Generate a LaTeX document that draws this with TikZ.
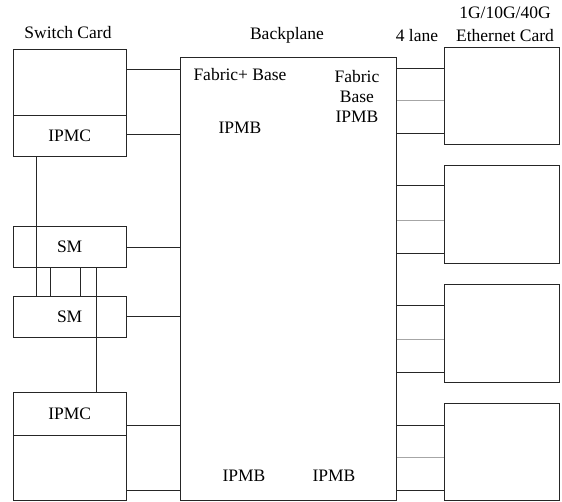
\documentclass[tikz,border=0pt]{standalone}
\usepackage{fontspec}
\setmainfont{Liberation Serif}
\begin{document}
\begin{tikzpicture}[x=1pt,y=-1pt,
  box/.style={draw=black!85,line width=0.9pt,rectangle,inner sep=0pt,anchor=north west},
  link/.style={draw=black!85,line width=0.9pt},
  glink/.style={draw=black!35,line width=0.9pt},
  lbl/.style={font=\fontsize{17.5}{19}\selectfont,inner sep=0pt}]
\useasboundingbox (0,0) rectangle (562,501);
% switch card
\node[box,minimum width=113pt,minimum height=66pt] (sc) at (12.7,49) {};
\node[box,minimum width=113pt,minimum height=41pt] (ipmc1) at (12.7,115) {};
\node[lbl] at (ipmc1.center) {IPMC};
\node[lbl] (sclbl) at (68,33) {Switch Card};
% shelf managers
\node[box,minimum width=113pt,minimum height=41.6pt] (sm1) at (12.7,225.7) {};
\node[lbl] at (sm1.center) {SM};
\node[box,minimum width=113pt,minimum height=41pt] (sm2) at (12.7,295.7) {};
\node[lbl] at (sm2.center) {SM};
% bottom card
\node[box,minimum width=113pt,minimum height=42.7pt] (ipmc2) at (12.7,392.3) {};
\node[lbl] at (ipmc2.center) {IPMC};
\node[box,minimum width=113pt,minimum height=64.5pt] (bc) at (12.7,435) {};
% backplane
\node[box,minimum width=216pt,minimum height=442.5pt] (bp) at (180,57) {};
\node[lbl] (bplbl) at (287,35) {Backplane};
\node[lbl] at (240,75) {Fabric+ Base};
\node[lbl] at (240,128) {IPMB};
\node[lbl,align=center] at (357,96) {Fabric\\[1pt]Base\\[1pt]IPMB};
\node[lbl] at (244,476) {IPMB};
\node[lbl] at (334,476) {IPMB};
% ethernet cards
\node[box,minimum width=114.4pt,minimum height=97.6pt] (e1) at (444.3,46.7) {};
\node[box,minimum width=114.4pt,minimum height=98.3pt] (e2) at (444.3,165) {};
\node[box,minimum width=114.4pt,minimum height=97.4pt] (e3) at (444.3,284.3) {};
\node[box,minimum width=114.4pt,minimum height=96.8pt] (e4) at (444.3,402.7) {};
\node[lbl] at (505,13) {1G/10G/40G};
\node[lbl] at (505,36) {Ethernet Card};
\node[lbl] at (417,36) {4 lane};
% left connectors
\draw[link] (sc.east |- 0,69) -- (bp.west |- 0,69);
\draw[link] (ipmc1.east |- 0,134) -- (bp.west |- 0,134);
\draw[link] (sm1.east |- 0,247) -- (bp.west |- 0,247);
\draw[link] (sm2.east |- 0,316) -- (bp.west |- 0,316);
\draw[link] (ipmc2.east |- 0,425) -- (bp.west |- 0,425);
\draw[link] (bc.east |- 0,490) -- (bp.west |- 0,490);
% vertical IPMB links
\draw[link] (ipmc1.south -| 36.7,0) -- (sm2.north -| 36.7,0);
\draw[link] (sm1.south -| 50.7,0) -- (sm2.north -| 50.7,0);
\draw[link] (sm1.south -| 80.7,0) -- (sm2.north -| 80.7,0);
\draw[link] (sm1.south -| 96.3,0) -- (ipmc2.north -| 96.3,0);
% right connectors
\foreach \e/\a/\b/\c in {e1/68.7/100.7/133.3, e2/185/220.3/253.3, e3/305.7/339/372.3, e4/425/457/490}{
  \draw[link] (bp.east |- 0,\a) -- (\e.west |- 0,\a);
  \draw[glink] (bp.east |- 0,\b) -- (\e.west |- 0,\b);
  \draw[link] (bp.east |- 0,\c) -- (\e.west |- 0,\c);
}
\end{tikzpicture}
\end{document}
